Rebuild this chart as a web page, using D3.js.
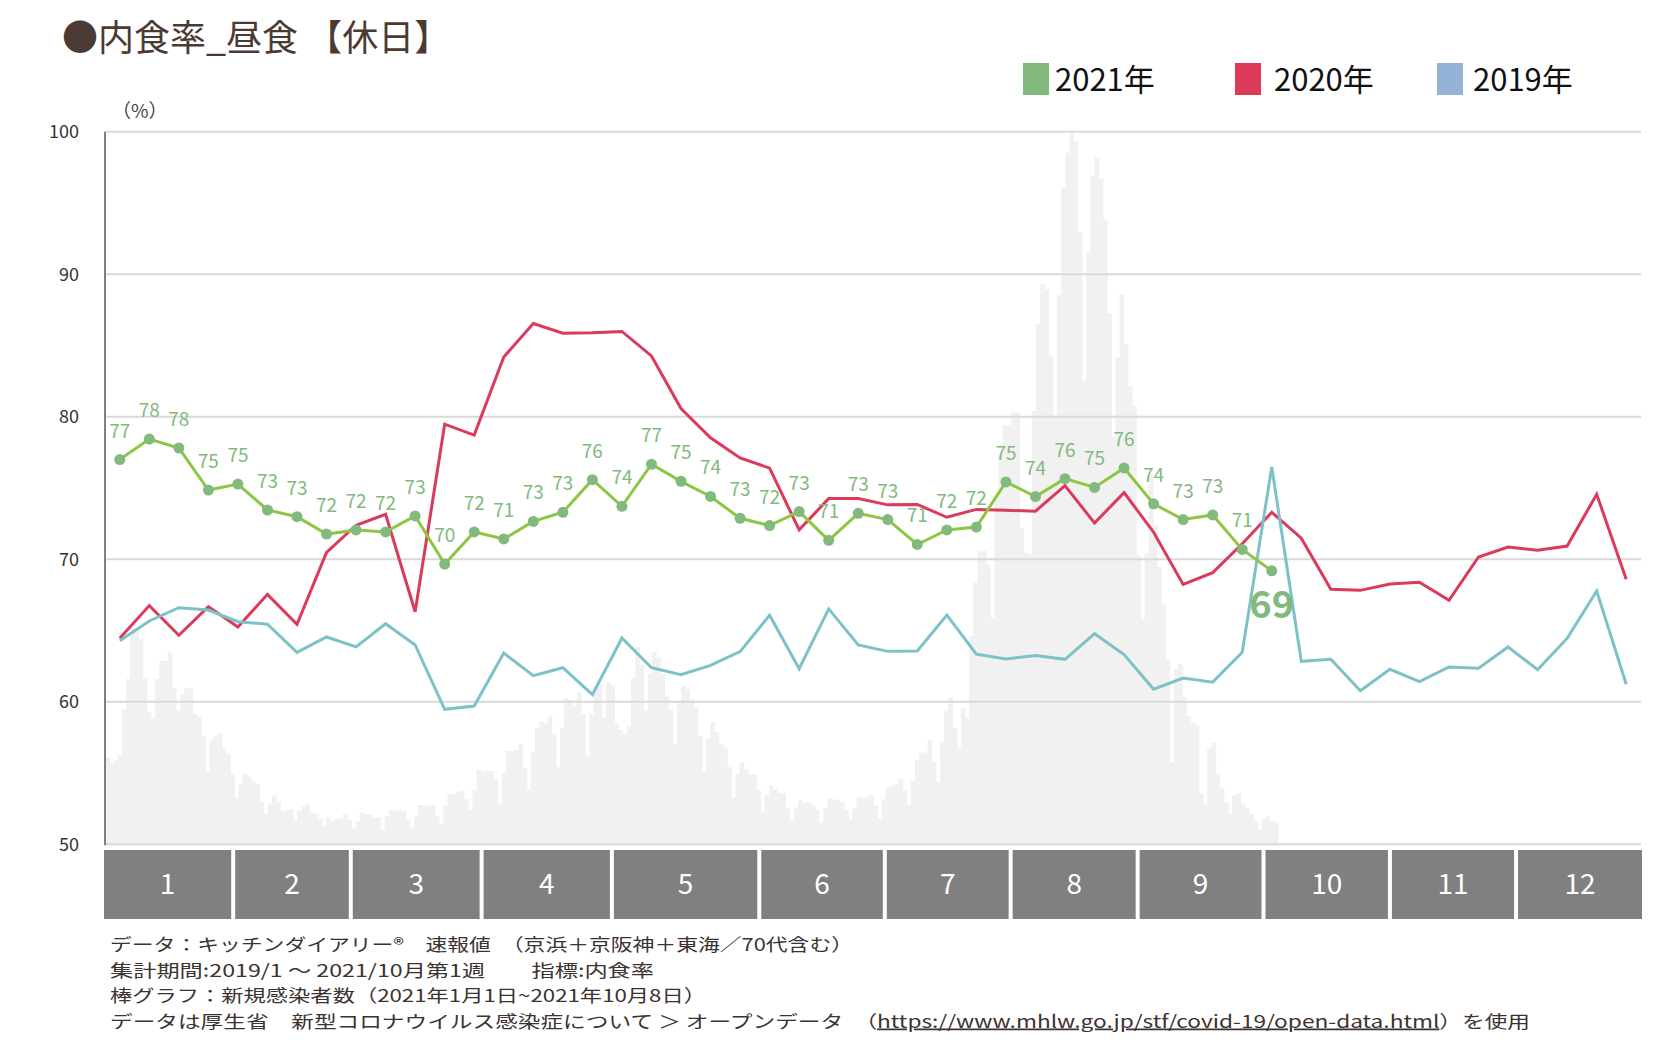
<!DOCTYPE html>
<html><head><meta charset="utf-8">
<script src="https://cdn.jsdelivr.net/npm/d3@7"></script>
<style>
html,body{margin:0;padding:0;background:#fff;}
svg{display:block;font-family:"Noto Sans CJK JP","Noto Sans",sans-serif;}
</style></head><body>
<svg id="chart" width="1672" height="1051"></svg>
<script>
// ---------------- DATA ----------------
const weeks = d3.range(1, 53);
const months = ["1","2","3","4","5","6","7","8","9","10","11","12"];
// month boundaries expressed in week units (0..52)
const monthEdgesWeek = [0, 4.34, 8.32, 12.75, 17.16, 22.15, 26.4, 30.66, 34.96, 39.22, 43.5, 47.77, 52];
const yTicks = [50, 60, 70, 80, 90, 100];

const rate2021 = [77.0, 78.44, 77.81, 74.86, 75.28, 73.46, 72.99, 71.77, 72.06, 71.92,
  73.04, 69.67, 71.92, 71.43, 72.66, 73.30, 75.59, 73.72, 76.67, 75.47,
  74.41, 72.88, 72.37, 73.35, 71.33, 73.23, 72.79, 71.04, 72.06, 72.26,
  75.43, 74.4, 75.66, 75.04, 76.41, 73.89, 72.79, 73.11, 70.69, 69.19];

const rate2020 = [64.46, 66.75, 64.67, 66.68, 65.25, 67.54, 65.44, 70.49, 72.39, 73.16,
  66.32, 79.48, 78.72, 84.2, 86.55, 85.86, 85.9, 85.99, 84.27, 80.58,
  78.53, 77.11, 76.40, 72.07, 74.26, 74.26, 73.82, 73.85, 72.95, 73.5,
  73.44, 73.38, 75.17, 72.55, 74.68, 71.9, 68.24, 69.06, 71.09, 73.29,
  71.48, 67.9, 67.82, 68.27, 68.39, 67.12, 70.16, 70.86, 70.63, 70.93,
  74.56, 68.6];

const rate2019 = [64.29, 65.67, 66.6, 66.44, 65.62, 65.44, 63.47, 64.55, 63.85, 65.48,
  63.99, 59.47, 59.7, 63.42, 61.83, 62.39, 60.5, 64.48, 62.39, 61.9,
  62.56, 63.52, 66.08, 62.32, 66.52, 63.99, 63.54, 63.57, 66.08, 63.34,
  63.01, 63.24, 62.98, 64.78, 63.31, 60.89, 61.67, 61.38, 63.47, 76.47,
  62.84, 62.98, 60.78, 62.28, 61.41, 62.44, 62.35, 63.85, 62.25, 64.46,
  67.78, 61.23];

// daily new COVID-19 cases, 2021-01-01 .. 2021-10-08
const dailyCases = [
  // Jan
  3176, 2994, 3079, 3262, 4929, 6036, 7886, 7800, 7485, 6061,
  4844, 4576, 6036, 6694, 6694, 6998, 5696, 4880, 5452, 5696,
  5696, 4758, 4661, 3931, 2677, 3785, 3931, 4053, 3481, 3298, 2592,
  // Feb
  1679, 2227, 2568, 2470, 2288, 2191, 1533, 1107, 1497,
  1777, 1582, 1229, 1253, 1278, 888, 1229, 1375, 1460, 1168,
  1132, 949, 645, 986, 852, 949, 949, 1120, 888,
  // Mar
  584, 828, 1156, 1107, 1071, 986, 974, 523, 1034, 1229, 1229,
  1229, 1229, 888, 608, 1034, 1436, 1436, 1400, 1436, 1034,
  742, 1400, 1838, 1838, 1923, 1959, 1655, 1253, 1984, 2738,
  // Apr
  2653, 2677, 2677, 2385, 1473, 2592, 3408, 3408, 3444, 3651,
  2775, 2020, 3359, 4235, 4479, 4418, 4698, 4016, 2811, 4260,
  5330, 5280, 5070, 5540, 4770, 3240, 4750, 5780, 5880, 4620,
  // May
  5905, 5800, 4410, 4170, 3995, 4300, 6050, 7195, 6560, 4890,
  6228, 7020, 6820, 6243, 5400, 4900, 3650, 5150, 5785, 5660,
  5300, 5000, 3960, 2655, 3846, 4454, 4089, 3651, 3505, 2811, 1704,
  // Jun
  2568, 2982, 2738, 2556, 2556, 1960, 1193, 1801, 2142,
  2008, 1886, 1862, 1314, 864, 1351, 1619, 1497, 1521, 1436,
  1278, 803, 1314, 1679, 1619, 1643, 1558, 1229, 913, 1314, 1716,
  // Jul
  1679, 1716, 1801, 1412, 949, 1643, 2081, 2130, 2203,
  2378, 1958, 1430, 2310, 3070, 3350, 3350, 3815, 3015, 2275,
  3740, 4860, 5355, 4250, 3529, 4965, 4600, 7606, 9553, 10710, 10710, 10199,
  // Aug
  8279, 12695, 14227, 15297, 15297, 15756, 15756, 11560, 10626, 10575,
  15807, 18986, 20431, 20259, 17847, 15636, 20055, 23967, 25240, 25970,
  25664, 22350, 16913, 21584, 24390, 25069, 24302, 22777, 19376, 14873, 17763,
  // Sep
  20055, 18271, 16742, 15975, 10538, 8210, 10626, 13516, 11648, 10119,
  8758, 6718, 2981, 6378, 6583, 5360, 4682, 4426, 4335, 1872,
  1449, 3488, 3693, 2554, 2043, 1533, 1109, 1788, 1872, 1449,
  // Oct
  1314, 1109, 854, 515, 938, 1022, 854, 770
];

const legendItems = [
  {name: "2021年", color: "#83b97d"},
  {name: "2020年", color: "#dc3a5b"},
  {name: "2019年", color: "#95b3d7"}
];

const footerLines = [
  "データ：キッチンダイアリー®　速報値　（京浜＋京阪神＋東海／70代含む）",
  "集計期間:2019/1 ～ 2021/10月第1週　　指標:内食率",
  "棒グラフ：新規感染者数（2021年1月1日~2021年10月8日）"
];
const footerLast = ["データは厚生省　新型コロナウイルス感染症について ＞ オープンデータ　（",
  "https://www.mhlw.go.jp/stf/covid-19/open-data.html", "）を使用"];

// ---------------- CHART ----------------
const svg = d3.select("#chart");
const L = 105, R = 1641, T = 131.8, B = 844.3;

const y = d3.scaleLinear().domain([50, 100]).range([B, T]);
const xw = d3.scalePoint().domain(weeks).range([L, R]).padding(0.5);
const xm = d3.scaleLinear().domain([0, 52]).range([L, R]);
const xd = d3.scaleBand().domain(d3.range(dailyCases.length))
  .range([L, L + dailyCases.length * 4.175]).padding(0);
const yc = d3.scaleLinear().domain([0, 26000]).range([B, T]);

// title
svg.append("text").attr("x", 62).attr("y", 51)
  .attr("font-size", 36).attr("fill", "#4b3a33")
  .text("●内食率_昼食 【休日】");

// legend
const lx = [1023, 1235, 1437];
const ltx = [1055, 1274, 1473];
const lg = svg.append("g");
legendItems.forEach((d, i) => {
  lg.append("rect").attr("x", lx[i]).attr("y", 63).attr("width", 26).attr("height", 32).attr("fill", d.color);
  lg.append("text").attr("x", ltx[i]).attr("y", 91).attr("font-size", 31).attr("fill", "#111").text(d.name);
});

// bars
svg.append("g").selectAll("rect").data(dailyCases).join("rect")
  .attr("x", (d, i) => xd(i))
  .attr("width", xd.bandwidth() + 0.6)
  .attr("y", d => yc(d))
  .attr("height", d => B - yc(d))
  .attr("fill", "#f1f1f1");

// gridlines
svg.append("g").selectAll("line").data(yTicks).join("line")
  .attr("x1", L).attr("x2", R)
  .attr("y1", d => y(d)).attr("y2", d => y(d))
  .attr("stroke", "#d9d9d9").attr("stroke-width", 2);

// y axis
const ya = svg.append("g").attr("transform", `translate(${L},0)`)
  .call(d3.axisLeft(y).tickValues(yTicks).tickSize(0).tickPadding(26));
ya.select(".domain").remove();
ya.selectAll("text").attr("font-size", 18).attr("fill", "#333")
  .attr("font-family", "'Noto Sans CJK JP', sans-serif");
svg.append("line").attr("x1", L).attr("x2", L).attr("y1", T).attr("y2", B + 1)
  .attr("stroke", "#808080").attr("stroke-width", 2);
svg.append("text").attr("x", 112).attr("y", 118).attr("font-size", 19)
  .attr("fill", "#444").text("（%）");

// lines
const line = d3.line().x((d, i) => xw(weeks[i])).y(d => y(d));
svg.append("path").datum(rate2020).attr("d", line)
  .attr("fill", "none").attr("stroke", "#dc3a5b").attr("stroke-width", 3);
svg.append("path").datum(rate2019).attr("d", line)
  .attr("fill", "none").attr("stroke", "#7cc2c6").attr("stroke-width", 3);
svg.append("path").datum(rate2021).attr("d", line)
  .attr("fill", "none").attr("stroke", "#8dc641").attr("stroke-width", 3);

svg.append("g").selectAll("circle").data(rate2021).join("circle")
  .attr("cx", (d, i) => xw(weeks[i])).attr("cy", d => y(d)).attr("r", 5.5)
  .attr("fill", "#82b97c");

const last = rate2021.length - 1;
svg.append("g").selectAll("text").data(rate2021).join("text")
  .attr("x", (d, i) => xw(weeks[i]))
  .attr("y", (d, i) => i === last ? y(d) + 47 : y(d) - 22)
  .attr("text-anchor", "middle")
  .attr("font-size", (d, i) => i === last ? 38 : 19)
  .attr("font-weight", (d, i) => i === last ? "bold" : "normal")
  .attr("fill", "#82b97c")
  .text(d => d3.format(".0f")(d));

// month bar
const mg = svg.append("g");
months.forEach((m, i) => {
  const x0 = i === 0 ? xm(monthEdgesWeek[i]) - 1 : xm(monthEdgesWeek[i]) + 2;
  const x1 = i === months.length - 1 ? xm(monthEdgesWeek[i + 1]) + 1 : xm(monthEdgesWeek[i + 1]) - 2;
  mg.append("rect").attr("x", x0).attr("y", 850).attr("width", x1 - x0).attr("height", 69).attr("fill", "#808080");
  mg.append("text").attr("x", (x0 + x1) / 2).attr("y", 894).attr("text-anchor", "middle")
    .attr("font-size", 28).attr("fill", "#fff").text(m);
});

// footer
const footerWidths = [743, 544, 596, 1420];
const fg = svg.append("g").attr("font-size", 17.5).attr("fill", "#3c3330");
footerLines.forEach((t, i) => {
  fg.append("text").attr("x", 110).attr("y", 951 + i * 25.5)
    .attr("textLength", footerWidths[i]).attr("lengthAdjust", "spacingAndGlyphs").text(t);
});
const ft = fg.append("text").attr("x", 110).attr("y", 951 + 3 * 25.5)
  .attr("textLength", footerWidths[3]).attr("lengthAdjust", "spacingAndGlyphs");
ft.append("tspan").text(footerLast[0]);
ft.append("tspan").attr("text-decoration", "underline").text(footerLast[1]);
ft.append("tspan").text(footerLast[2]);
</script>
</body></html>
